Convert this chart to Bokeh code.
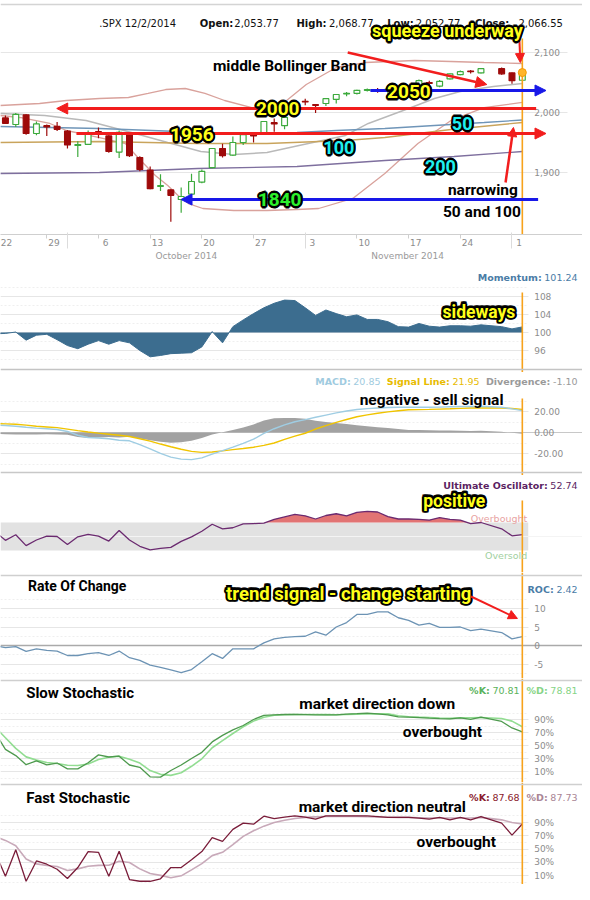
import numpy as np
from bokeh.plotting import figure
from bokeh.models import (Range1d, LinearAxis, FixedTicker, Grid, Span, Label,
                          Arrow, NormalHead, BoxAnnotation, ColumnDataSource)
from bokeh.layouts import column
from bokeh.embed import file_html
from bokeh.resources import INLINE

# ======================= DATA =======================
# x axis: trading-day slots counted from Tue 23 Sep 2014 (slot 47 = Thanksgiving, no session)
week_labels = ["22", "29", "6", "13", "20", "27", "3", "10", "17", "24", "1"]
week_start_day = [-1, 4, 9, 14, 19, 24, 29, 34, 39, 44, 49]
month_labels = ["October 2014", "November 2014"]
month_label_day = [17.5, 38.9]
month_first_day = [6, 29, 49]

price_ticks = [1900, 2000, 2100]
price_tick_labels = ["1,900", "2,000", "2,100"]

candle_day = [0, 1, 2, 3, 4, 5, 6, 7, 8, 9, 10, 11, 12, 13, 14, 15, 16, 17, 18, 19,
              20, 21, 22, 23, 24, 25, 26, 27, 28, 29, 30, 31, 32, 33, 34, 35, 36, 37, 38, 39,
              40, 41, 42, 43, 44, 45, 46, 48, 49, 50]
c_open = [1991, 1980, 1996, 1965, 1978, 1977, 1969, 1945, 1947, 1968,
          1961, 1934, 1965, 1925, 1904, 1877, 1871, 1855, 1864, 1884,
          1908, 1940, 1929, 1950, 1963, 1965, 1983, 1978, 2001, 2018.5,
          2013, 2015, 2022, 2031, 2032, 2037, 2038, 2038, 2039, 2038,
          2045, 2050, 2044, 2056, 2063, 2069, 2066,
          2073, 2066, 2053.77]
c_high = [1995, 1999, 1997, 1985, 1980, 1984, 1971, 1952, 1970, 1975,
          1962, 1970, 1966, 1927, 1910, 1897, 1872, 1875, 1898, 1905,
          1941, 1948, 1960, 1964, 1965, 1986, 1990, 1996, 2015, 2023,
          2014, 2024, 2031, 2034, 2038, 2040, 2041, 2045, 2042, 2043,
          2055, 2053, 2054, 2065, 2070, 2071, 2074,
          2075, 2066.5, 2068.77]
c_low = [1982, 1976, 1963, 1962, 1961, 1969, 1940, 1926, 1946, 1957,
         1933, 1924, 1926, 1902, 1872, 1869, 1818, 1833, 1862, 1882,
         1907, 1925, 1928, 1946, 1950, 1964, 1968, 1972, 2000, 2012,
         1999, 2011, 2015, 2027, 2030, 2035, 2033, 2031, 2035, 2030,
         2043, 2045, 2042, 2055, 2062, 2065, 2065,
         2063, 2048, 2052.77]
c_close = [1982, 1997, 1965, 1981, 1976, 1972, 1946, 1946.5, 1966, 1964,
           1935, 1967, 1928, 1905, 1873, 1878, 1862, 1860, 1885, 1902,
           1940, 1928, 1950, 1963, 1961, 1985, 1981, 1992, 2013, 2017.5,
           2012, 2023, 2030, 2032, 2037, 2038, 2037, 2039, 2040, 2041,
           2053, 2048.5, 2052, 2064.5, 2068, 2068, 2073,
           2064.5, 2053, 2066.55]

bb_upper_day = [-0.5, 3.3, 5.9, 9.1, 11.9, 13.8, 15.5, 17.4, 19.3, 21.2, 24.1, 25.8, 27.2, 29.1, 32.0, 34.8, 39.6, 43.1, 46.3, 50]
bb_upper = [2011.7, 2015, 2020, 2023.3, 2025, 2031.7, 2038.3, 2040, 2031.7, 2020, 2006.7, 2008.3, 2020, 2046.7, 2075, 2083.3, 2086.7, 2085, 2083.3, 2081.7]
bb_lower_day = [-0.5, 1.4, 4.3, 5.9, 9.1, 11.6, 12.9, 14.5, 15.7, 16.7, 17.7, 19.1, 22.1, 25.3, 28.2, 30.3, 33.6, 36.7, 39.9, 43.1, 46.3, 50]
bb_lower = [1995, 1991.7, 1981.7, 1970, 1958.3, 1948.3, 1923.3, 1895, 1878.3, 1861.7, 1848.3, 1840, 1836.7, 1836.7, 1838.3, 1840, 1856.7, 1898.3, 1948.3, 1986.7, 2008.3, 2016.7]
bb_mid_day = [-0.5, 3.8, 7.8, 12.2, 15.7, 18.9, 22.1, 25.3, 28.4, 32.9, 35.1, 39.0, 41.5, 44.0, 47.2, 50]
bb_mid = [1998.3, 1995, 1986.7, 1966.7, 1950, 1935, 1930, 1933.3, 1945, 1961.7, 1981.7, 2006.7, 2023.3, 2035, 2043.3, 2048.3]
ma50_day = [-0.5, 9.1, 16.7, 22.4, 28.2, 32.0, 36.7, 41.5, 46.3, 50]
ma50 = [1976.7, 1973.3, 1968.3, 1965, 1966.7, 1970, 1973.3, 1978.3, 1983.3, 1987.5]
ma100_day = [-0.5, 9.1, 18.6, 25.3, 32.9, 36.7, 43.1, 50]
ma100 = [1950, 1951.7, 1948.3, 1948.3, 1953.3, 1958.3, 1971.7, 1983.3]
ma200_day = [-0.5, 9.1, 18.6, 28.2, 36.7, 43.4, 50]
ma200 = [1898.3, 1900, 1906.7, 1910, 1920, 1926.7, 1935]

ind_day = [-1, 0, 1, 2, 3, 4, 5, 6, 7, 8, 9, 10, 11, 12, 13, 14, 15, 16, 17, 18, 19,
           20, 21, 22, 23, 24, 25, 26, 27, 28, 29, 30, 31, 32, 33, 34, 35, 36, 37, 38, 39,
           40, 41, 42, 43, 44, 45, 46, 48, 49, 50]
momentum = [99.7, 99.8, 100.1, 98.3, 99.4, 99.6, 98.4, 97.1, 96.4, 97.4,
            98.2, 97.4, 98.2, 97.7, 96.0, 94.6, 94.9, 95.3, 95.4, 95.5,
            96.8, 100.2, 97.7, 101.3, 102.8, 104.2, 105.5, 106.5, 107.2, 107.1,
            105.5, 103.8, 105.0, 104.2, 103.5, 103.9, 102.9, 102.9, 102.4, 101.3,
            101.2, 102.0, 101.4, 101.2, 101.5, 101.5, 101.4, 101.7,
            101.3, 100.8, 101.24]
macd = [7.0, 6.6, 5.9, 5.0, 4.2, 3.6, 2.8, 1.0, -2.6, -4.8,
        -5.3, -6.0, -7.4, -7.9, -11.5, -15.6, -19.9, -23.4, -25.4, -25.8,
        -24.2, -20.6, -17.3, -14.0, -10.4, -6.4, -0.9, 3.6, 7.2, 10.2,
        12.3, 14.5, 16.6, 18.7, 20.5, 21.9, 22.7, 23.3, 23.8, 24.1,
        24.1, 24.1, 24.1, 24.2, 24.5, 24.7, 24.8, 25.0,
        24.0, 22.5, 20.85]
signal = [8.5, 8.2, 7.8, 7.0, 6.0, 5.3, 4.6, 3.2, 1.8, 0.5,
          -0.6, -1.6, -2.6, -3.8, -5.9, -8.2, -11.0, -13.6, -16.0, -18.0,
          -18.9, -18.6, -17.5, -16.3, -15.2, -14.0, -12.3, -10.0, -6.5, -3.5,
          -0.7, 3.3, 6.6, 9.6, 12.4, 15.0, 16.8, 18.3, 19.6, 20.7,
          21.6, 21.8, 22.0, 22.3, 22.6, 23.0, 23.3, 23.4,
          23.4, 22.8, 21.95]
divergence = [-1.5, -1.6, -1.9, -2.0, -1.8, -1.7, -1.8, -2.2, -4.4, -5.3,
              -4.7, -4.4, -4.8, -4.1, -5.6, -7.4, -8.9, -9.8, -9.4, -7.8,
              -5.3, -2.0, 0.2, 2.3, 4.8, 7.6, 11.4, 13.6, 13.7, 13.7,
              13.0, 11.2, 10.0, 9.1, 8.1, 6.9, 5.9, 5.0, 4.2, 3.4,
              2.5, 2.3, 2.1, 1.9, 1.9, 1.7, 1.5, 1.6,
              0.6, -0.3, -1.10]
ult_osc = [57, 44.5, 52.5, 37, 45, 50.5, 50, 38.5, 49.5, 53,
           50.5, 43.5, 58.5, 45, 36, 31, 33, 34.5, 43, 49.5,
           57.5, 67.5, 61, 62.5, 68, 68.5, 69, 74.5, 78, 81.5,
           79.5, 75, 80, 82.5, 79.5, 84.5, 86, 85, 78.5, 75,
           75, 74.5, 73.5, 77, 74.5, 73.5, 68.5, 70,
           61, 51, 52.74]
roc = [0.0, -0.6, -0.3, -1.6, -0.9, -1.3, -1.5, -2.7, -2.7, -2.2,
       -1.9, -2.7, -1.5, -3.3, -4.0, -5.3, -5.9, -6.6, -7.3, -6.5,
       -4.4, -2.2, -3.5, -0.9, -0.9, -0.9, 0.7, 1.8, 2.2, 2.4,
       2.5, 3.7, 2.8, 5.0, 6.2, 8.4, 8.4, 9.1, 9.1, 7.5,
       6.8, 5.5, 6.0, 4.9, 4.9, 5.0, 4.0, 4.4,
       3.5, 1.8, 2.42]
slow_k = [70, 44, 34.5, 20.5, 26.5, 20.3, 23, 14.1, 14.1, 23.5,
          35.6, 32.3, 33.6, 20, 16.5, 1.8, 1.3, 11.5, 20, 30,
          39.5, 55.5, 65.5, 74, 80.8, 90, 96.2, 97.2, 97.7, 97.7,
          97.5, 97.2, 97.2, 97.2, 98.2, 98.9, 99.7, 98.5, 97.2, 94,
          93.6, 93, 92, 91.2, 91, 92.6, 90.2, 93.6,
          87, 77, 70.81]
slow_d = [78, 62, 45.5, 32.5, 27.5, 23.8, 22.2, 19.6, 19.2, 21.5,
          28.5, 32, 33.6, 28.8, 23, 11.5, 5.6, 4, 8, 18,
          29.5, 46.5, 57.5, 68.5, 78.8, 87.5, 93.5, 96.5, 97.4, 97.7,
          97.7, 97.7, 97.5, 97.2, 97.8, 98.3, 98.7, 98.7, 98.7, 95.8,
          94.3, 93.6, 93, 92.3, 91.8, 92.5, 92.8, 93.1,
          91.5, 87.5, 78.81]
fast_k = [45, 9, 48.8, 1.3, 32, 27, 19.4, 5.5, 22, 46,
          45, 9, 46.7, 3.9, 1.3, 1.3, 5, 22, 22, 33.8,
          46.2, 67.3, 61.6, 79.7, 89, 87.4, 99.5, 95.7, 98.2, 100,
          98, 95, 100, 100, 100, 100, 100, 99, 97.7, 97.7,
          97.7, 96.5, 95, 97.7, 94, 97.7, 94, 99,
          89, 71, 87.68]
fast_d = [68.6, 63, 55, 35, 27.5, 25, 23.5, 17.5, 20, 24,
          25.3, 25.5, 31.5, 29.7, 20, 13, 10.2, 6.5, 9.5, 18.5,
          28, 40, 45, 56.5, 69, 77.5, 84.5, 90, 93.5, 96,
          97.7, 98.5, 99, 99, 99, 99, 98.6, 98.3, 98, 97.8,
          97.7, 97.2, 96.7, 96.7, 96.7, 96.7, 96.8, 97.7,
          94, 90, 87.73]

# ======================= LAYOUT HELPERS =======================
FULL_W = 582          # frame width on the page
REF_W = 590           # width of the original picture that the frame represents
PLOT_R = 535          # right end of the drawing area (px, original picture)
PX0, PX_PER_DAY = 5.0, 10.48
BOLDF = "Roboto"
SANS = "DejaVu Sans"
ORANGE = "#f7a21b"


def day_of(px):
    return (px - PX0) / PX_PER_DAY


def lin(pa, va, pb, vb):
    def f(py):
        return va + (py - pa) * (vb - va) / (pb - pa)
    return f


def make_panel(top, bottom, f, ticks, minor, tick_labels=None, extra_bottom=0, grid_to=PLOT_R):
    p = figure(frame_width=FULL_W, frame_height=bottom - top,
               x_range=Range1d(day_of(0), day_of(REF_W)),
               y_range=Range1d(f(bottom), f(top)),
               output_backend="svg", toolbar_location=None,
               x_axis_location=None, y_axis_location=None,
               min_border_left=0, min_border_right=0,
               min_border_top=0, min_border_bottom=extra_bottom)
    p.outline_line_color = None
    p.xgrid.visible = False
    p.ygrid.visible = False
    p.background_fill_color = "white"
    p.border_fill_color = "white"
    tk = FixedTicker(ticks=ticks, minor_ticks=minor)
    gkw = dict(dimension=1, ticker=tk, grid_line_color="#e6e6e6",
               minor_grid_line_color="#efefef", minor_grid_line_dash="2 2")
    try:
        g = Grid(cross_bounds=(day_of(0), day_of(grid_to)), **gkw)
    except Exception:
        g = Grid(**gkw)
    p.add_layout(g)
    if tick_labels is None:
        tick_labels = [str(t) for t in ticks]
    for t, lab in zip(ticks, tick_labels):
        p.add_layout(Label(x=day_of(PLOT_R + 6), y=t, text=lab, text_font=SANS,
                           text_font_size="9px", text_color="#8c8c8c",
                           text_align="left", text_baseline="middle"))
    return p


OUTLINE_OFFSETS = [(-1.6, 0), (1.6, 0), (0, -1.6), (0, 1.6),
                   (-1.2, -1.2), (1.2, 1.2), (-1.2, 1.2), (1.2, -1.2)]


def put_text(p, f, px, py, text, size, color="#000000", font=BOLDF, bold=True,
             align="center", outline=None):
    kw = dict(x=day_of(px), y=f(py), text=text, text_font=font,
              text_font_size=f"{size}px",
              text_font_style="bold" if bold else "normal",
              text_align=align, text_baseline="middle")
    if outline:
        try:
            Label(text_outline_color=outline)
            extra = {"text_outline_color": outline}
        except Exception:
            extra = {}
        for dx, dy in OUTLINE_OFFSETS:
            p.add_layout(Label(x_offset=dx, y_offset=dy, text_color=outline, **extra, **kw))
        p.add_layout(Label(text_color=color, **kw))
        return
    p.add_layout(Label(text_color=color, **kw))


N_W = {' ': .318, '%': .95, '-': .361, '.': .318, ':': .337, ',': .318, '/': .337,
       'A': .684, 'C': .698, 'D': .770, 'K': .656, 'L': .557, 'M': .863, 'O': .787,
       'R': .695, 'S': .635, 'U': .732, 'a': .613, 'c': .55, 'd': .635, 'e': .615,
       'g': .635, 'h': .634, 'i': .278, 'l': .278, 'm': .974, 'n': .634, 'o': .612,
       'r': .411, 's': .521, 't': .392, 'u': .634, 'v': .592}
B_W = {' ': .348, '%': 1.002, '-': .415, '.': .38, ':': .4, ',': .38, '/': .365,
       'A': .774, 'C': .734, 'D': .83, 'K': .775, 'L': .637, 'M': .995, 'O': .85,
       'R': .77, 'S': .72, 'U': .812, 'a': .675, 'c': .593, 'd': .716, 'e': .678,
       'g': .716, 'h': .712, 'i': .343, 'l': .343, 'm': 1.042, 'n': .712, 'o': .687,
       'r': .493, 's': .595, 't': .478, 'u': .712, 'v': .652}


def text_w(s, size, bold):
    tbl = B_W if bold else N_W
    dig = .696 if bold else .636
    return size * sum(dig if ch.isdigit() else tbl.get(ch, .65) for ch in s)


def header(p, f, py, pieces, x_end=585, size=9.5):
    x = x_end
    for txt, bold, col in reversed(pieces):
        p.add_layout(Label(x=day_of(x), y=f(py), text=txt, text_font=SANS,
                           text_font_size=f"{size}px", text_color=col,
                           text_font_style="bold" if bold else "normal",
                           text_align="right", text_baseline="middle"))
        x -= text_w(txt, size, bold) + size * 0.32
        if bold:
            x -= size * 0.45   # extra gap between label/value groups


def arrow(p, f, x0, y0, x1, y1, color, width=3, head=11):
    p.add_layout(Arrow(x_start=day_of(x0), y_start=f(y0), x_end=day_of(x1), y_end=f(y1),
                       line_color=color, line_width=width,
                       end=NormalHead(size=head, fill_color=color, line_color=color, line_width=1)))


def orange_marker(p, f, py_top, py_bottom):
    p.segment(x0=[ind_day[-1]], y0=[f(py_top)], x1=[ind_day[-1]], y1=[f(py_bottom)],
              line_color=ORANGE, line_width=1.6)


RED = "#f21d1d"
BLUE = "#1818e8"
YEL = "#ffff1a"
CYAN = "#1ff0f0"
GREEN = "#2cf02c"

# ======================= MAIN PRICE PANEL =======================
fmain = lin(52, 2100, 112, 2000)
pm = make_panel(0, 234, fmain, price_ticks, [], price_tick_labels, extra_bottom=31, grid_to=575)

# date axes
wk_pos = [max(round(d + 0.7, 2), 0.1) for d in week_start_day]
ax1 = LinearAxis(ticker=FixedTicker(ticks=wk_pos, minor_ticks=week_start_day),
                 major_label_overrides=dict(zip(wk_pos, week_labels)))
ax1.axis_line_color = "#cfcfcf"
ax1.major_tick_line_color = None
ax1.major_tick_out = 0
ax1.major_tick_in = 0
ax1.minor_tick_line_color = "#cfcfcf"
ax1.minor_tick_in = 0
ax1.minor_tick_out = 4
ax1.major_label_standoff = 0
ax1.major_label_text_font = SANS
ax1.major_label_text_font_size = "9px"
ax1.major_label_text_color = "#8c8c8c"
pm.add_layout(ax1, "below")
ax2 = LinearAxis(ticker=FixedTicker(ticks=month_label_day, minor_ticks=month_first_day),
                 major_label_overrides=dict(zip(month_label_day, month_labels)))
ax2.axis_line_color = None
ax2.major_tick_line_color = None
ax2.major_tick_out = 0
ax2.major_tick_in = 0
ax2.minor_tick_line_color = "#dcdcdc"
ax2.minor_tick_in = 16
ax2.minor_tick_out = 0
ax2.major_label_standoff = 2
ax2.major_label_text_font = SANS
ax2.major_label_text_font_size = "9px"
ax2.major_label_text_color = "#9a9a9a"
pm.add_layout(ax2, "below")

pm.add_layout(Span(location=fmain(4), dimension="width", line_color="#d4d4d4", line_width=1.5))

pm.line(bb_upper_day, bb_upper, line_color="#d9a29c", line_width=1.3)
pm.line(bb_lower_day, bb_lower, line_color="#d9a29c", line_width=1.3)
pm.line(bb_mid_day, bb_mid, line_color="#b9b9b9", line_width=1.4)
pm.line(ma200_day, ma200, line_color="#7e6f9e", line_width=1.3)
pm.line(ma100_day, ma100, line_color="#c9a45c", line_width=1.3)
pm.line(ma50_day, ma50, line_color="#6f95b8", line_width=1.3)

up = [c >= o for o, c in zip(c_open, c_close)]
csrc = ColumnDataSource(dict(
    x=candle_day, o=c_open, h=c_high, l=c_low, c=c_close,
    top=[max(o, c) for o, c in zip(c_open, c_close)],
    bot=[min(o, c) for o, c in zip(c_open, c_close)],
    col=["#3daa3d" if u else "#9e0a0a" for u in up],
    fill=["#ffffff" if u else "#9e0a0a" for u in up]))
pm.segment(x0="x", y0="l", x1="x", y1="h", line_color="col", line_width=1.2, source=csrc)
pm.vbar(x="x", width=0.56, top="top", bottom="bot", fill_color="fill",
        line_color="col", line_width=1.2, source=csrc)
orange_marker(pm, fmain, 38, 234)
pm.scatter(x=[candle_day[-1]], y=[c_close[-1]], size=8, fill_color="#ffb52a",
           line_color="#f39a00", line_width=1)

# header
for txt, x, bold in [(".SPX 12/2/2014", 100, False), ("Open:", 202, True), ("2,053.77", 237, False),
                     ("High:", 300, True), ("2,068.77", 333, False), ("Low:", 392, True),
                     ("2,052.77", 421, False), ("Close:", 481, True), ("2,066.55", 525, False)]:
    put_text(pm, fmain, x, 22.7, txt, 10, "#111111", font=SANS, bold=bold, align="left")

arrow(pm, fmain, 352, 52, 493, 84, RED, width=2.5)
arrow(pm, fmain, 526, 39, 527, 62, RED, width=2, head=9)
arrow(pm, fmain, 543, 108, 57, 108, RED)
arrow(pm, fmain, 77, 133, 553, 133, RED)
arrow(pm, fmain, 375, 90, 553, 90, BLUE)
arrow(pm, fmain, 545, 199, 183, 199, BLUE)
arrow(pm, fmain, 512, 182, 520, 127, RED, width=2.5, head=9)

put_text(pm, fmain, 453, 30, "squeeze underway", 18, YEL, outline="#000000")
put_text(pm, fmain, 293, 65, "middle Bollinger Band", 15.5)
put_text(pm, fmain, 281, 108, "2000", 19, YEL, outline="#000000")
put_text(pm, fmain, 194, 134, "1956", 19, YEL, outline="#000000")
put_text(pm, fmain, 414, 91, "2050", 19, YEL, outline="#000000")
put_text(pm, fmain, 283, 199, "1840", 19, GREEN, outline="#000000")
put_text(pm, fmain, 468, 123, "50", 18, CYAN, outline="#000000")
put_text(pm, fmain, 343, 147, "100", 18, CYAN, outline="#000000")
put_text(pm, fmain, 446, 166, "200", 18, CYAN, outline="#000000")
put_text(pm, fmain, 489, 189, "narrowing", 15.5)
put_text(pm, fmain, 488, 211, "50 and 100", 15.5)

# ======================= MOMENTUM =======================
fmom = lin(296, 108, 332, 100)
pmo = make_panel(265, 372, fmom, [96, 100, 104, 108], [94, 98, 102, 106, 110])
pmo.varea(x=ind_day, y1=[100] * len(ind_day), y2=momentum, fill_color="#3c6d8f")
pmo.line(ind_day, momentum, line_color="#3c6d8f", line_width=1)
pmo.add_layout(Span(location=fmom(369), dimension="width", line_color="#c4c4c4", line_width=1.5))
orange_marker(pmo, fmom, 292, 372)
header(pmo, fmom, 277, [("Momentum:", True, "#4a7ca6"), ("101.24", False, "#4a7ca6")])
put_text(pmo, fmom, 485, 311, "sideways", 17.5, YEL, outline="#000000")

# ======================= MACD =======================
fmacd = lin(411, 20, 453, -20)
pmc = make_panel(372, 475, fmacd, [-20, 0, 20], [-30, -10, 10, 30],
                 ["-20.00", "0.00", "20.00"])
pmc.add_layout(Span(location=0, dimension="width", line_color="#c8c8c8", line_width=1.2, level="underlay"))
pmc.varea(x=ind_day, y1=[0] * len(ind_day), y2=divergence, fill_color="#a2a2a2")
pmc.line(ind_day, signal, line_color="#f0c400", line_width=1.4)
pmc.line(ind_day, macd, line_color="#9fcde3", line_width=1.4)
pmc.add_layout(Span(location=fmacd(472), dimension="width", line_color="#c8c8c8", line_width=1.5))
orange_marker(pmc, fmacd, 398, 475)
header(pmc, fmacd, 381, [("MACD:", True, "#9fcbe0"), ("20.85", False, "#9fcbe0"),
                         ("Signal Line:", True, "#e7bb00"), ("21.95", False, "#e7bb00"),
                         ("Divergence:", True, "#9a9a9a"), ("-1.10", False, "#9a9a9a")])
put_text(pmc, fmacd, 437, 399, "negative - sell signal", 15.5)

# ======================= ULTIMATE OSCILLATOR =======================
fuo = lin(522, 70, 550, 30)
puo = make_panel(475, 572, fuo, [], [])
puo.add_layout(BoxAnnotation(bottom=30, top=70, left=day_of(0), right=day_of(PLOT_R),
                             fill_color="#e2e2e2", fill_alpha=1, line_color=None, level="underlay"))
puo.add_layout(Span(location=50, dimension="width", line_color="#f4f4f4", line_width=1, level="underlay"))
# overbought fill (area between the line and the 70 level, where the line is above it)
ux, uy = [], []
for i in range(len(ind_day)):
    if i > 0:
        a, b = ult_osc[i - 1], ult_osc[i]
        if (a - 70) * (b - 70) < 0:
            t = (70 - a) / (b - a)
            ux.append(ind_day[i - 1] + t * (ind_day[i] - ind_day[i - 1]))
            uy.append(70)
    ux.append(ind_day[i])
    uy.append(max(ult_osc[i], 70))
puo.varea(x=ux, y1=[70] * len(ux), y2=uy, fill_color="#e27474")
puo.line(ind_day, ult_osc, line_color="#6b2a70", line_width=1.3)
orange_marker(puo, fuo, 500, 572)
header(puo, fuo, 485, [("Ultimate Oscillator:", True, "#5b1f62"), ("52.74", False, "#5b1f62")])
put_text(puo, fuo, 534, 518, "Overbought", 9.5, "#e8a2a2", font=SANS, bold=False, align="right")
put_text(puo, fuo, 534, 555, "Oversold", 9.5, "#9fd09f", font=SANS, bold=False, align="right")
put_text(puo, fuo, 460, 500, "positive", 17.5, YEL, outline="#000000")

# ======================= RATE OF CHANGE =======================
froc = lin(608, 10, 645, 0)
pr = make_panel(572, 678, froc, [-5, 0, 5, 10], [-7.5, -2.5, 2.5, 7.5, 12.5])
pr.add_layout(Span(location=froc(575), dimension="width", line_color="#cfcfcf", line_width=1.5))
pr.add_layout(Span(location=0, dimension="width", line_color="#aaaaaa", line_width=1.5, level="underlay"))
pr.line(ind_day, roc, line_color="#6c93b4", line_width=1.3)
orange_marker(pr, froc, 572, 678)
put_text(pr, froc, 28, 585, "Rate Of Change", 14, align="left")
header(pr, froc, 589, [("ROC:", True, "#4a7ca6"), ("2.42", False, "#4a7ca6")])
put_text(pr, froc, 353, 593, "trend signal - change starting", 18.5, YEL, outline="#000000")
arrow(pr, froc, 477, 596, 524, 618, RED, width=2, head=9)

# ======================= SLOW STOCHASTIC =======================
pct_ticks = [10, 30, 50, 70, 90]
pct_labels = [f"{t}%" for t in pct_ticks]
fslow = lin(719, 90, 771, 10)
ps = make_panel(678, 782, fslow, pct_ticks, [0, 20, 40, 60, 80, 100], pct_labels)
ps.add_layout(Span(location=fslow(680), dimension="width", line_color="#cfcfcf", line_width=1.5))
ps.line(ind_day, slow_d, line_color="#92dd92", line_width=1.6)
ps.line(ind_day, slow_k, line_color="#4e9a4e", line_width=1.3)
orange_marker(ps, fslow, 678, 782)
put_text(ps, fslow, 26, 692, "Slow Stochastic", 15, align="left")
header(ps, fslow, 690, [("%K:", True, "#5bb35b"), ("70.81", False, "#5bb35b"),
                        ("%D:", True, "#86d486"), ("78.81", False, "#86d486")])
put_text(ps, fslow, 382, 703, "market direction down", 15.5)
put_text(ps, fslow, 448, 731, "overbought", 15.5)

# ======================= FAST STOCHASTIC =======================
ffast = lin(822, 90, 875, 10)
pf = make_panel(782, 884, ffast, pct_ticks, [0, 20, 40, 60, 80, 100], pct_labels)
pf.add_layout(Span(location=ffast(784), dimension="width", line_color="#cfcfcf", line_width=1.5))
pf.line(ind_day, fast_d, line_color="#c8a9b9", line_width=1.6)
pf.line(ind_day, fast_k, line_color="#7a1d3a", line_width=1.3)
orange_marker(pf, ffast, 782, 884)
put_text(pf, ffast, 26, 797, "Fast Stochastic", 15, align="left")
header(pf, ffast, 797, [("%K:", True, "#8a1a2c"), ("87.68", False, "#8a1a2c"),
                        ("%D:", True, "#a98595"), ("87.73", False, "#a98595")])
put_text(pf, ffast, 387, 806, "market direction neutral", 15.5)
put_text(pf, ffast, 462, 841, "overbought", 15.5)

layout = column(pm, pmo, pmc, puo, pr, ps, pf, spacing=0)
open("out.html", "w").write(file_html(layout, INLINE))
